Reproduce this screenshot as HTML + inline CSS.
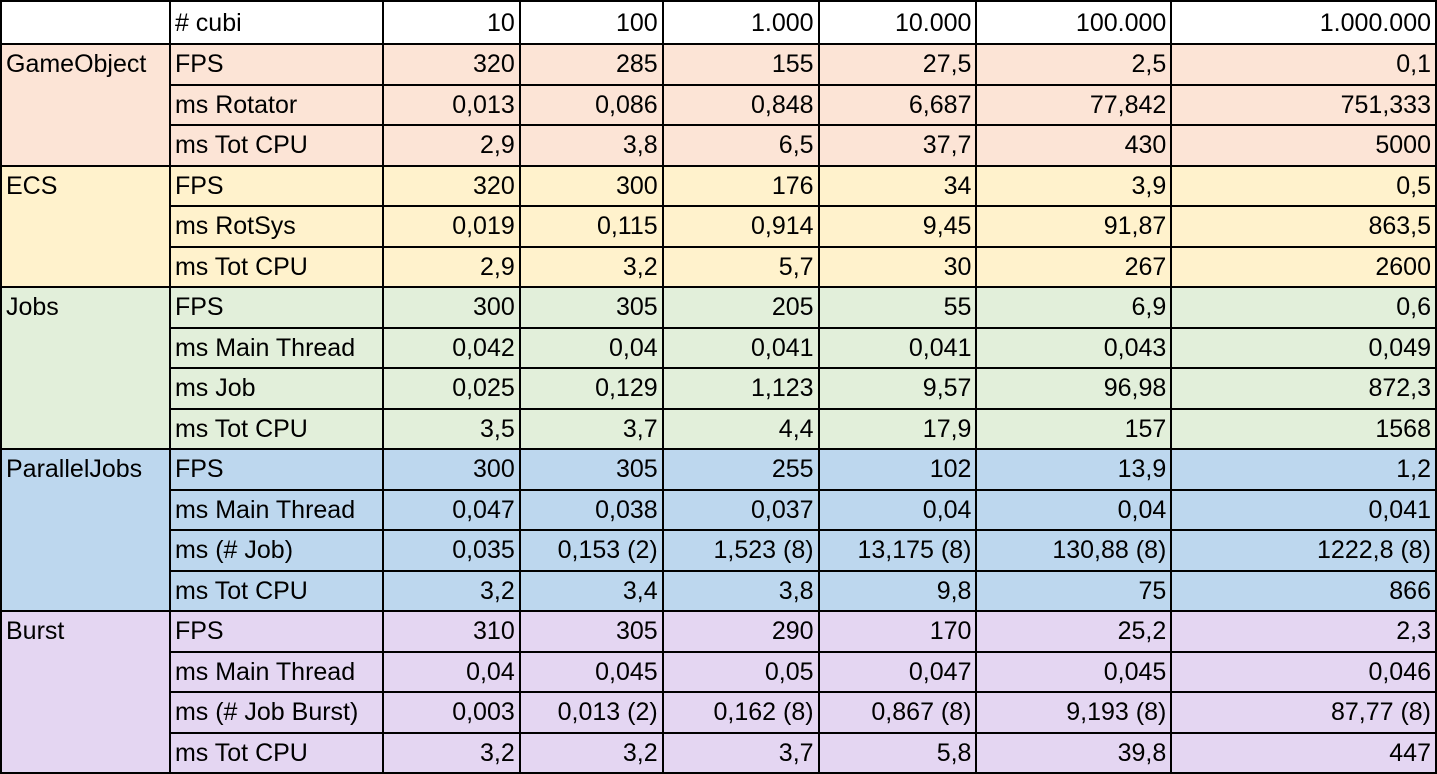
<!DOCTYPE html>
<html><head><meta charset="utf-8"><style>
body{margin:0;background:#fff;}
table{border-collapse:collapse;table-layout:fixed;font-family:"Liberation Sans",sans-serif;font-size:25px;color:#000;}
td{border:2px solid #000;padding:0 4px;height:38.5px;line-height:38px;white-space:nowrap;overflow:hidden;vertical-align:middle;}
td.n{text-align:right;}
td.g{vertical-align:top;}
.go td{background:#fce4d6}.ec td{background:#fff2cc}.jb td{background:#e2efda}.pj td{background:#bdd7ee}.bu td{background:#e4d6f2}
tr.h td{background:#fff;height:41px}
</style></head><body>
<table>
<colgroup><col style="width:169px"><col style="width:213px"><col style="width:137px"><col style="width:143px"><col style="width:156px"><col style="width:158px"><col style="width:195px"><col style="width:265px"></colgroup>
<tr class="h"><td></td><td>&#35; cubi</td><td class="n">10</td><td class="n">100</td><td class="n">1.000</td><td class="n">10.000</td><td class="n">100.000</td><td class="n">1.000.000</td></tr>
<tbody class="go">
<tr><td class="g" rowspan="3">GameObject</td><td>FPS</td><td class="n">320</td><td class="n">285</td><td class="n">155</td><td class="n">27,5</td><td class="n">2,5</td><td class="n">0,1</td></tr>
<tr><td>ms Rotator</td><td class="n">0,013</td><td class="n">0,086</td><td class="n">0,848</td><td class="n">6,687</td><td class="n">77,842</td><td class="n">751,333</td></tr>
<tr><td>ms Tot CPU</td><td class="n">2,9</td><td class="n">3,8</td><td class="n">6,5</td><td class="n">37,7</td><td class="n">430</td><td class="n">5000</td></tr>
</tbody>
<tbody class="ec">
<tr><td class="g" rowspan="3">ECS</td><td>FPS</td><td class="n">320</td><td class="n">300</td><td class="n">176</td><td class="n">34</td><td class="n">3,9</td><td class="n">0,5</td></tr>
<tr><td>ms RotSys</td><td class="n">0,019</td><td class="n">0,115</td><td class="n">0,914</td><td class="n">9,45</td><td class="n">91,87</td><td class="n">863,5</td></tr>
<tr><td>ms Tot CPU</td><td class="n">2,9</td><td class="n">3,2</td><td class="n">5,7</td><td class="n">30</td><td class="n">267</td><td class="n">2600</td></tr>
</tbody>
<tbody class="jb">
<tr><td class="g" rowspan="4">Jobs</td><td>FPS</td><td class="n">300</td><td class="n">305</td><td class="n">205</td><td class="n">55</td><td class="n">6,9</td><td class="n">0,6</td></tr>
<tr><td>ms Main Thread</td><td class="n">0,042</td><td class="n">0,04</td><td class="n">0,041</td><td class="n">0,041</td><td class="n">0,043</td><td class="n">0,049</td></tr>
<tr><td>ms Job</td><td class="n">0,025</td><td class="n">0,129</td><td class="n">1,123</td><td class="n">9,57</td><td class="n">96,98</td><td class="n">872,3</td></tr>
<tr><td>ms Tot CPU</td><td class="n">3,5</td><td class="n">3,7</td><td class="n">4,4</td><td class="n">17,9</td><td class="n">157</td><td class="n">1568</td></tr>
</tbody>
<tbody class="pj">
<tr><td class="g" rowspan="4">ParallelJobs</td><td>FPS</td><td class="n">300</td><td class="n">305</td><td class="n">255</td><td class="n">102</td><td class="n">13,9</td><td class="n">1,2</td></tr>
<tr><td>ms Main Thread</td><td class="n">0,047</td><td class="n">0,038</td><td class="n">0,037</td><td class="n">0,04</td><td class="n">0,04</td><td class="n">0,041</td></tr>
<tr><td>ms (# Job)</td><td class="n">0,035</td><td class="n">0,153 (2)</td><td class="n">1,523 (8)</td><td class="n">13,175 (8)</td><td class="n">130,88 (8)</td><td class="n">1222,8 (8)</td></tr>
<tr><td>ms Tot CPU</td><td class="n">3,2</td><td class="n">3,4</td><td class="n">3,8</td><td class="n">9,8</td><td class="n">75</td><td class="n">866</td></tr>
</tbody>
<tbody class="bu">
<tr><td class="g" rowspan="4">Burst</td><td>FPS</td><td class="n">310</td><td class="n">305</td><td class="n">290</td><td class="n">170</td><td class="n">25,2</td><td class="n">2,3</td></tr>
<tr><td>ms Main Thread</td><td class="n">0,04</td><td class="n">0,045</td><td class="n">0,05</td><td class="n">0,047</td><td class="n">0,045</td><td class="n">0,046</td></tr>
<tr><td>ms (# Job Burst)</td><td class="n">0,003</td><td class="n">0,013 (2)</td><td class="n">0,162 (8)</td><td class="n">0,867 (8)</td><td class="n">9,193 (8)</td><td class="n">87,77 (8)</td></tr>
<tr><td>ms Tot CPU</td><td class="n">3,2</td><td class="n">3,2</td><td class="n">3,7</td><td class="n">5,8</td><td class="n">39,8</td><td class="n">447</td></tr>
</tbody>
</table>
</body></html>
